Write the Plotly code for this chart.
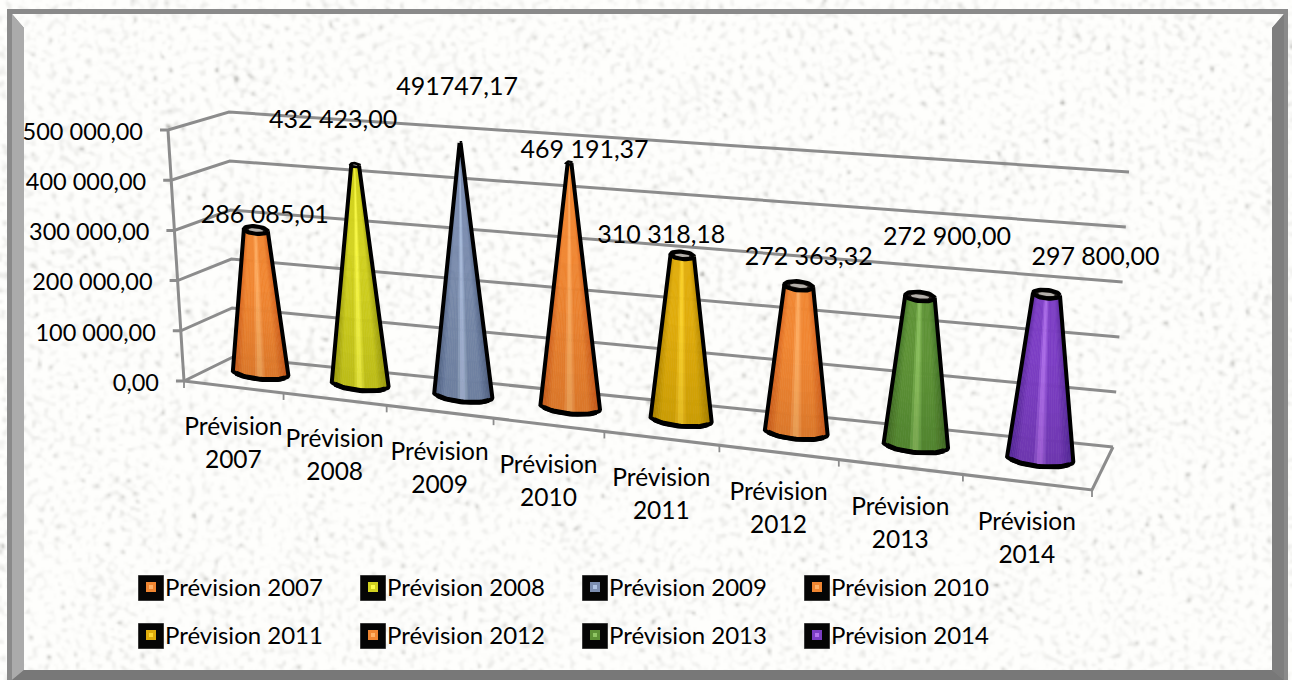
import base64
import struct
import zlib

import numpy as np
import plotly.graph_objects as go

# ---- chart data ----
CATEGORIES = ["Prévision 2007", "Prévision 2008", "Prévision 2009", "Prévision 2010",
              "Prévision 2011", "Prévision 2012", "Prévision 2013", "Prévision 2014"]
VALUES = [286085.01, 432423.00, 491747.17, 469191.37, 310318.18, 272363.32, 272900.00, 297800.00]
VALUE_LABELS = ["286 085,01", "432 423,00", "491747,17", "469 191,37",
                "310 318,18", "272 363,32", "272 900,00", "297 800,00"]
AXIS_TICKS = [0, 100000, 200000, 300000, 400000, 500000]
AXIS_TICK_LABELS = ["0,00", "100 000,00", "200 000,00", "300 000,00", "400 000,00", "500 000,00"]
AXIS_MAX = 500000

# ---- styling ----
# (edge, body, highlight) of each cone's side shading
CONE_SHADES = [
    ("#d45f1c", "#f08632", "#ffb268"),
    ("#a0a010", "#d2d220", "#ffff4c"),
    ("#566788", "#7c8eb0", "#b0c4e4"),
    ("#d45f1c", "#f08632", "#ffb268"),
    ("#b58600", "#e0ac0c", "#ffd830"),
    ("#d45f1c", "#f08632", "#ffb268"),
    ("#3f6f25", "#5e9236", "#90c664"),
    ("#5a2a9c", "#7c3ec4", "#b474ee"),
]
LABEL_OFFSETS = [(9, -13), (-22, -43), (-3, -54), (15, -11), (-21, -19), (10, -27), (27, -58), (49, -35)]
LEGEND_COLS = [138, 360, 582, 804]
LEGEND_ROWS = [588, 636]
FONT = "Lato"
TICK_SIZE = 23.5
CATEGORY_SIZE = 24.5
LEGEND_SIZE = 24
VALUE_SIZE = 25
GRID = "#8c8c8c"

# Corners of the plot box in screen space: [front/back][left/right][bottom/top]
FRONT_L0, FRONT_L1 = np.array([184.0, 381.0]), np.array([168.0, 130.0])
FRONT_R0, FRONT_R1 = np.array([1092.0, 490.0]), np.array([1100.0, 208.0])
BACK_L0, BACK_L1 = np.array([233.0, 357.0]), np.array([229.0, 112.0])
BACK_R0, BACK_R1 = np.array([1113.0, 447.0]), np.array([1129.0, 172.0])
FORESHORTEN = 1.16


def project(u, value, depth):
    """Map category position u (0..1), a value and a depth (0 front, 1 back) to the screen."""
    t = u / (u + FORESHORTEN * (1 - u))
    v = value / AXIS_MAX
    front = (1 - t) * ((1 - v) * FRONT_L0 + v * FRONT_L1) + t * ((1 - v) * FRONT_R0 + v * FRONT_R1)
    back = (1 - t) * ((1 - v) * BACK_L0 + v * BACK_L1) + t * ((1 - v) * BACK_R0 + v * BACK_R1)
    return (1 - depth) * front + depth * back


def hex_rgb(c):
    return np.array([int(c[i:i + 2], 16) for i in (1, 3, 5)], dtype=float)


def shade(colors, x):
    """Side colour at x in -1..1 across the cone: dark rim, even body, narrow central highlight."""
    edge, body, hi = (hex_rgb(c) for c in colors)
    d = abs(x)
    if d > 0.62:
        rgb = body + (edge - body) * (d - 0.62) / 0.38
    elif d > 0.22:
        rgb = body
    else:
        rgb = hi + (body - hi) * d / 0.22
    return "rgb(%d,%d,%d)" % tuple(rgb)


def mottled_paper_uri():
    """Pale stone-like paper texture, built from many overlaid plane waves, as a PNG data URI."""
    h, w = 340, 646
    ys, xs = np.arange(h, dtype=float), np.arange(w, dtype=float)

    def frac(v):
        return v - np.floor(v)

    def waves(count, low, high, seed):
        field = np.zeros((h, w))
        for k in range(count):
            angle = 2 * np.pi * frac(np.sin((k + seed) * 12.9898) * 43758.5453)
            wavelength = low + (high - low) * frac(np.sin((k + seed) * 78.233) * 24634.6345)
            phase = 2 * np.pi * frac(np.sin((k + seed) * 37.719) * 9631.277)
            a, b = 2 * np.pi * np.cos(angle) / wavelength, 2 * np.pi * np.sin(angle) / wavelength
            field += np.outer(np.cos(b * ys), np.sin(a * xs + phase)) + np.outer(np.sin(b * ys), np.cos(a * xs + phase))
        return field / field.std()

    fine = waves(260, 3.5, 9.0, 1.0)
    patches = waves(80, 24.0, 60.0, 500.0)
    mixed = fine + 0.22 * patches
    amount = np.clip(mixed - 0.2, 0, None) * 8.0 + np.clip(mixed - 2.5, 0, None) * 16
    img = np.clip(np.stack([254 - amount, 254 - amount, 252 - amount * 1.03], axis=2), 0, 255).astype(np.uint8)
    raw = b"".join(b"\x00" + img[r].tobytes() for r in range(h))

    def chunk(tag, data):
        body = tag + data
        return struct.pack(">I", len(data)) + body + struct.pack(">I", zlib.crc32(body))

    png = (b"\x89PNG\r\n\x1a\n" + chunk(b"IHDR", struct.pack(">IIBBBBB", w, h, 8, 2, 0, 0, 0))
           + chunk(b"IDAT", zlib.compress(raw, 9)) + chunk(b"IEND", b""))
    return "data:image/png;base64," + base64.b64encode(png).decode()


fig = go.Figure()


def add_line(points, color=GRID, width=3.0):
    pts = np.array(points)
    fig.add_trace(go.Scatter(x=pts[:, 0], y=pts[:, 1], mode="lines", hoverinfo="skip",
                             line=dict(color=color, width=width)))


def add_text(x, y, text, size, position="middle center"):
    fig.add_trace(go.Scatter(x=[x], y=[y], mode="text", text=[text], textposition=position, hoverinfo="skip",
                             textfont=dict(family=FONT, size=size, color="#000000")))


# ---- walls, floor and axes ----
for tick in AXIS_TICKS:
    add_line([project(0, tick, 0) + np.array([-8, 0]), project(0, tick, 0), project(0, tick, 1), project(1, tick, 1)])
add_line([project(0, 0, 0), project(0, AXIS_MAX, 0)])
add_line([project(0, 0, 0), project(1, 0, 0), project(1, 0, 1)])
for k in range(len(CATEGORIES) + 1):
    p = project(k / len(CATEGORIES), 0, 0)
    add_line([p, p + np.array([0, 7])], width=1.8)

# ---- cones ----
n = len(CATEGORIES)
thetas = np.linspace(np.pi, 0, 37)
for i, value in enumerate(VALUES):
    u = (i + 0.5) / n
    base = project(u, 0, 0.57)
    top = project(u, value, 0.57)
    cell = np.linalg.norm(project((i + 1) / n, 0, 0.57) - project(i / n, 0, 0.57))
    rb = (0.37 * cell + 19.5) / 2
    rt = rb * (1 - value / AXIS_MAX)
    slope = (FRONT_R0[1] - FRONT_L0[1]) / (FRONT_R0[0] - FRONT_L0[0])
    ex, ey = np.array([1.0, slope * 0.8]), np.array([0.0, 1.0])


    def rim(center, r, ry, th):
        return center + r * np.cos(th)[..., None] * ex + ry * np.sin(th)[..., None] * ey


    ryb, ryt = 0.24 * rb, 0.32 * rt
    for a, b in zip(thetas[:-1], thetas[1:]):
        th = np.array([a, b])
        low, high = rim(base, rb, ryb, th), rim(top, rt, ryt, th)
        quad = np.array([low[0], low[1], high[1], high[0], low[0]])
        col = shade(CONE_SHADES[i], np.cos((a + b) / 2))
        fig.add_trace(go.Scatter(x=quad[:, 0], y=quad[:, 1], mode="lines", fill="toself", fillcolor=col,
                                 line=dict(color=col, width=0.7), hoverinfo="skip"))

    # the side darkens gently towards the base
    for frac_up in (0.08, 0.16, 0.24, 0.32, 0.4, 0.5, 0.6):
        c2 = base + (top - base) * frac_up
        r2, ry2 = rb + (rt - rb) * frac_up, ryb + (ryt - ryb) * frac_up
        band = np.vstack([rim(base, rb, ryb, thetas), rim(c2, r2, ry2, thetas[::-1])])
        fig.add_trace(go.Scatter(x=band[:, 0], y=band[:, 1], mode="lines", fill="toself",
                                 fillcolor="rgba(0,0,0,0.012)", line=dict(width=0), hoverinfo="skip"))

    # silhouette: down the left side, round the base, up the right side
    base_arc = rim(base, rb, ryb, thetas)
    outline = np.vstack([rim(top, rt, ryt, np.array([np.pi])), base_arc, rim(top, rt, ryt, np.array([0.0]))])
    add_line(outline, color="#000000", width=4.0)
    add_line(rim(base, rb * 0.97, ryb, thetas[5:-5]), color="#000000", width=5.0)

    # open mouth of the truncated cone
    ring_th = np.linspace(0, 2 * np.pi, 41)
    ring = rim(top, rt, ryt, ring_th)
    fig.add_trace(go.Scatter(x=ring[:, 0], y=ring[:, 1], mode="lines", fill="toself", fillcolor="#1a1614",
                             line=dict(color="#000000", width=4.0), hoverinfo="skip"))
    inner = rim(top, rt * 0.62, ryt * 0.42, ring_th)
    fig.add_trace(go.Scatter(x=inner[:, 0], y=inner[:, 1], mode="lines", fill="toself", fillcolor="#b4b0ab",
                             line=dict(color="#b4b0ab", width=0), hoverinfo="skip"))

# ---- text ----
for tick, label in zip(AXIS_TICKS, AXIS_TICK_LABELS):
    p = project(0, tick, 0)
    add_text(p[0] - 25, p[1] + 4, label, TICK_SIZE, position="middle left")
for i, cat in enumerate(CATEGORIES):
    p = project((i + 0.5) / n, 0, 0)
    word, year = cat.split(" ")
    add_text(p[0], p[1] + 42, word, CATEGORY_SIZE)
    add_text(p[0], p[1] + 75, year, CATEGORY_SIZE)
for i, (value, label) in enumerate(zip(VALUES, VALUE_LABELS)):
    p = project((i + 0.5) / n, value, 0.57)
    add_text(p[0] + LABEL_OFFSETS[i][0], p[1] + LABEL_OFFSETS[i][1], label, VALUE_SIZE)

# ---- legend ----
for i, cat in enumerate(CATEGORIES):
    lx, ly = LEGEND_COLS[i % 4], LEGEND_ROWS[i // 4]
    fig.add_trace(go.Scatter(x=[lx + 13], y=[ly], mode="markers", hoverinfo="skip",
                             marker=dict(symbol="square", size=25, color="#050505",
                                         line=dict(color="#3a3a3a", width=1))))
    fig.add_trace(go.Scatter(x=[lx + 13], y=[ly - 1], mode="markers", hoverinfo="skip",
                             marker=dict(symbol="square", size=10, color=CONE_SHADES[i][1],
                                         line=dict(width=0))))
    fig.add_trace(go.Scatter(x=[lx + 13], y=[ly - 1], mode="markers", hoverinfo="skip",
                             marker=dict(symbol="square", size=4, color=CONE_SHADES[i][2],
                                         line=dict(width=0))))
    add_text(lx + 27, ly + 2, cat, LEGEND_SIZE, position="middle right")

# ---- bevelled frame ----
frame = [
    ("M7,9 L1288,9 L1288,680 L7,680 Z M12,14 L1284,14 L1272,28 L1272,670 L24,670 L24,28 Z", "#8a8a8a"),
    ("M12,14 L24,28 L24,670 L12,680 Z", "#ababab"),
    ("M1284,14 L1272,28 L1272,670 L1284,680 Z", "#7e7e7e"),
    ("M24,670 L1272,670 L1284,680 L12,680 Z", "#787878"),
]
shapes = [dict(type="path", path=path, xref="x", yref="y", fillcolor=color, line=dict(width=0), layer="below")
          for path, color in frame]

fig.update_layout(
    width=1292, height=680, margin=dict(l=0, r=0, t=0, b=0), showlegend=False,
    paper_bgcolor="#ffffff", plot_bgcolor="rgba(0,0,0,0)", shapes=shapes,
    xaxis=dict(visible=False, range=[0, 1292], fixedrange=True),
    yaxis=dict(visible=False, range=[680, 0], fixedrange=True),
    images=[dict(source=mottled_paper_uri(), xref="paper", yref="paper", x=0, y=1, sizex=1, sizey=1,
                 sizing="stretch", xanchor="left", yanchor="top", layer="below")],
)
fig.write_html("out.html", config=dict(displayModeBar=False))
